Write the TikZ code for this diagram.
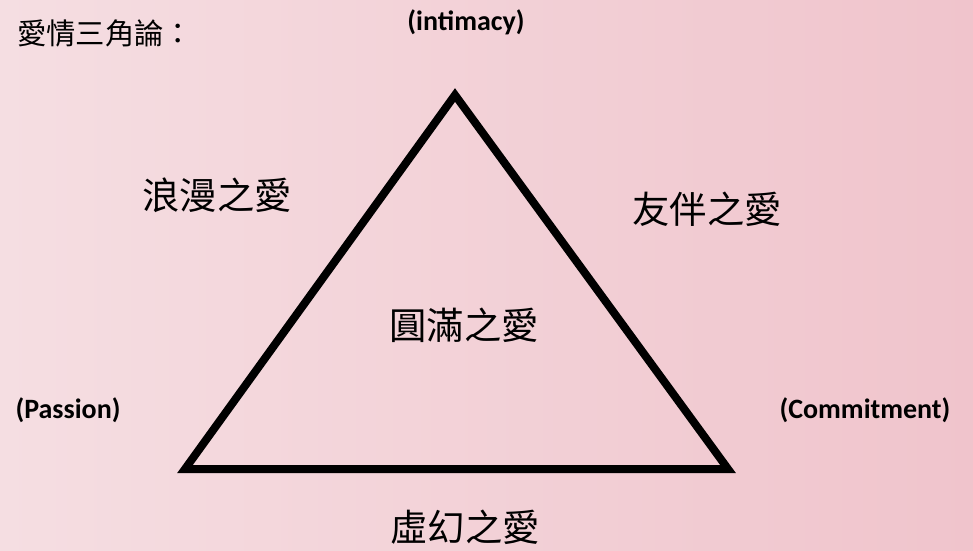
\documentclass[tikz,border=0pt]{standalone}
\usepackage{fontspec}
\setmainfont{Carlito}
\newfontfamily\cjk{Noto Sans CJK TC}
\definecolor{bgleft}{RGB}{245,222,226}
\definecolor{bgright}{RGB}{240,196,204}
\begin{document}
\begin{tikzpicture}[x=0.75pt,y=-0.75pt,every node/.style={inner sep=0pt},
	zh/.style={font=\cjk\fontsize{28}{28}\selectfont},
	en/.style={font=\bfseries\fontsize{21}{21}\selectfont}]
		% background
		\shade[left color=bgleft,right color=bgright] (0,0) rectangle (973,550);
		\useasboundingbox (0,0) rectangle (973,550);
		\node[anchor=west,font=\cjk\fontsize{22}{22}\selectfont] (title) at (17,33){愛情三角論：};
		\coordinate (top) at (455,95);
		\coordinate (left) at (185,469);
		\coordinate (right) at (728,469);
		\draw[line width=6pt,line join=miter] (top)--(left)--(right)--cycle;
		\node[en] (int) at (466,22){(intimacy)};
		\node[en] (pas) at (68,410){(Passion)};
		\node[en] (com) at (865,410){(Commitment)};
		\node[zh] (rom) at (217,195){浪漫之愛};
		\node[zh] (fri) at (707,209){友伴之愛};
		\node[zh] (full) at (464,325){圓滿之愛};
		\node[zh] (fake) at (465,527){虛幻之愛};
		\end{tikzpicture}
\end{document}
